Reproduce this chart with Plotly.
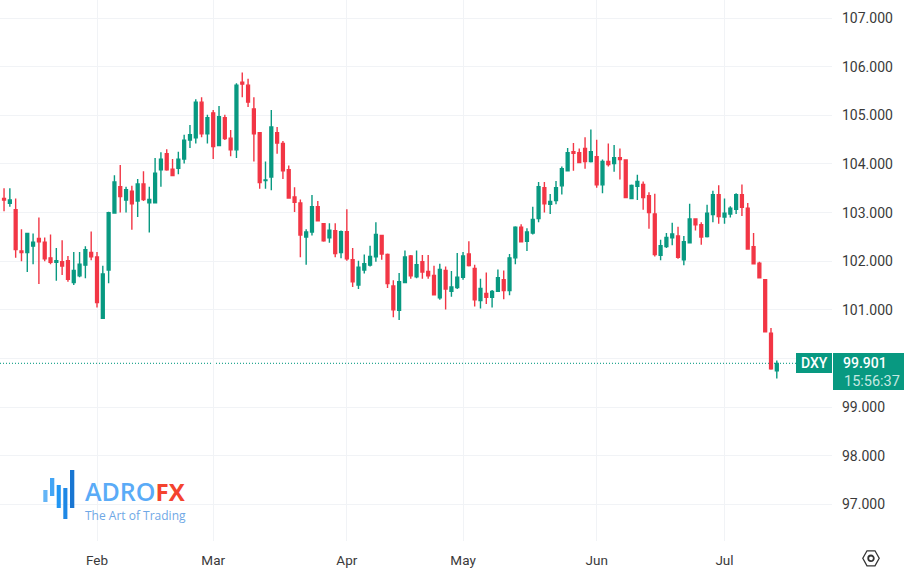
import pandas as pd
import plotly.graph_objects as go

# Trading days shown (weekdays)
dates = [d.strftime("%Y-%m-%d") for d in pd.bdate_range("2023-01-10", "2023-07-14")]

opens = [103.29,103.19,103.06,102.21,102.18,102.31,102.47,102.39,102.07,101.98,
101.99,102.01,101.56,101.70,101.92,102.18,102.09,100.83,101.82,102.99,
103.53,103.26,103.44,103.24,103.59,103.20,103.20,103.88,104.21,103.89,
103.91,104.10,104.49,104.54,105.27,104.62,105.05,104.38,104.95,104.53,
104.29,105.68,105.62,105.13,104.64,103.66,103.73,104.64,104.42,103.88,
103.32,103.20,102.50,102.60,103.12,102.77,102.48,102.63,102.18,102.61,
102.03,101.51,101.82,101.92,102.09,102.53,102.14,101.49,100.99,101.56,
102.11,101.68,101.99,101.79,101.71,101.25,101.81,101.38,101.46,101.67,
102.15,101.85,101.19,101.34,101.26,101.38,101.62,101.40,102.07,102.70,
102.41,102.58,102.88,103.51,103.17,103.25,103.55,103.86,104.25,104.23,
104.32,104.05,104.15,103.57,104.05,104.01,104.13,104.08,103.29,103.54,
103.58,103.35,102.97,102.12,102.30,102.48,102.52,102.03,102.38,102.87,
102.75,102.51,102.96,103.37,102.91,102.97,103.07,103.37,103.09,102.30,
101.96,101.62,100.52,99.75]
highs = [103.50,103.50,103.29,102.66,102.57,102.57,102.90,102.49,102.55,102.27,
102.43,102.11,102.19,102.19,102.31,102.61,102.19,101.91,103.02,103.77,
103.98,103.53,103.55,103.69,103.85,103.53,104.12,104.24,104.30,104.10,
104.25,104.60,104.80,105.33,105.37,105.01,105.11,105.19,105.01,104.70,
105.66,105.88,105.75,105.37,104.64,104.05,105.11,104.76,104.47,103.97,
103.52,103.27,102.66,103.36,103.24,102.77,102.78,102.78,102.63,103.07,
102.27,102.01,102.14,102.32,102.80,102.54,102.16,101.61,101.76,102.22,
102.13,102.22,102.13,102.13,101.91,101.95,101.89,101.80,102.17,102.19,
102.41,101.93,101.64,101.77,101.41,101.83,101.81,102.15,102.72,102.76,
102.68,103.12,103.63,103.63,103.38,103.65,103.95,104.33,104.43,104.32,
104.55,104.71,104.50,104.09,104.42,104.39,104.32,104.09,103.58,103.78,
103.64,103.42,103.39,102.44,102.58,102.79,102.71,102.52,103.18,102.87,
102.80,103.16,103.45,103.56,103.29,103.13,103.40,103.58,103.20,102.58,
101.99,101.62,100.63,99.96]
lows = [103.03,103.12,102.07,102.00,101.78,101.94,101.53,102.00,101.94,101.60,
101.72,101.58,101.51,101.67,101.65,102.02,101.05,100.83,101.55,102.99,
103.00,103.00,102.65,102.91,103.24,102.59,103.19,103.53,103.86,103.76,
103.79,104.01,104.33,104.42,104.55,104.42,104.10,104.38,104.49,104.16,
104.12,105.37,105.17,104.05,103.49,103.49,103.46,104.21,103.69,103.29,
103.01,102.08,101.93,102.53,102.83,102.40,102.38,102.08,102.06,102.01,
101.47,101.43,101.75,101.89,101.99,102.03,101.45,100.85,100.79,101.56,
101.64,101.65,101.64,101.64,101.30,101.21,101.01,101.27,101.43,101.62,
101.89,101.07,101.03,101.12,101.05,101.38,101.22,101.30,101.94,102.39,
102.21,102.55,102.80,103.00,102.97,103.17,103.37,103.86,103.86,104.03,
103.90,104.03,103.51,103.40,103.95,103.84,103.68,103.31,103.29,103.26,
103.06,102.67,102.10,102.02,102.27,102.33,102.05,101.92,102.38,102.63,
102.34,102.49,102.80,102.77,102.77,102.90,102.97,102.93,102.24,101.95,
101.66,100.54,99.77,99.59]
closes = [103.26,103.26,102.24,102.18,102.57,102.39,102.40,102.05,101.98,102.01,
101.90,101.63,101.81,101.94,102.24,102.09,101.15,101.74,103.00,103.63,
103.33,103.47,103.18,103.59,103.27,103.27,103.81,104.10,103.88,103.76,
104.10,104.49,104.60,105.27,104.62,104.95,104.36,104.97,104.52,104.29,
105.62,105.64,105.27,104.62,103.62,103.67,104.76,104.43,103.86,103.30,
103.21,102.54,102.60,103.12,102.83,102.42,102.64,102.16,102.61,102.05,
101.58,101.88,101.95,102.10,102.55,102.15,101.54,101.00,101.58,102.09,
101.70,101.93,101.78,101.70,101.31,101.83,101.43,101.47,101.67,102.11,
101.91,101.21,101.44,101.26,101.38,101.66,101.40,102.07,102.70,102.40,
102.60,102.86,103.53,103.18,103.23,103.51,103.90,104.23,104.22,104.03,
104.05,104.25,103.57,104.05,103.99,104.13,104.09,103.31,103.56,103.64,
103.31,103.00,102.14,102.32,102.49,102.56,102.08,102.40,102.87,102.75,
102.50,102.99,103.37,102.92,102.99,103.09,103.37,103.11,102.25,101.95,
101.66,100.55,99.79,99.90]

month_ticks = ["2023-02-01","2023-03-01","2023-04-03","2023-05-01","2023-06-01","2023-07-03"]
month_labels = ["Feb","Mar","Apr","May","Jun","Jul"]
price_ticks = [97,98,99,100,101,102,103,104,105,106,107]
price_labels = ["97.000","98.000","99.000","","101.000","102.000","103.000","104.000","105.000","106.000","107.000"]
last_price = 99.901

W, H = 904, 576
PW, PH = 832, 541
GREEN, RED = "#089981", "#F23645"
GRID = "#F1F3F6"
FONT = "Roboto"

def px(x): return x / PW
def py(y): return 1 - y / PH

fig = go.Figure(go.Candlestick(
    x=dates, open=opens, high=highs, low=lows, close=closes,
    increasing=dict(line=dict(color=GREEN, width=1.4), fillcolor=GREEN),
    decreasing=dict(line=dict(color=RED, width=1.4), fillcolor=RED),
    whiskerwidth=0, hoverinfo="skip", showlegend=False,
))

shapes = [
    dict(type="line", xref="paper", yref="y", x0=0, x1=1, y0=last_price, y1=last_price,
         line=dict(color="#2AA893", width=1.2, dash="1px,2px"), layer="below"),
    dict(type="rect", xref="paper", yref="paper", x0=px(796), x1=px(832), y0=py(373), y1=py(353),
         fillcolor=GREEN, line_width=0),
    dict(type="rect", xref="paper", yref="paper", x0=px(833), x1=px(904), y0=py(390), y1=py(353),
         fillcolor=GREEN, line_width=0),
]
# logo bars
for x0, x1, y0, y1, c in [(43.3,47.5,490,502,"#64B5F6"),(50,54.3,478,496,"#42A5F5"),
                          (56.7,60.8,485,508,"#2196F3"),(63.3,67.4,488,519,"#1E88E5"),
                          (70,74.3,470,508,"#1976D2")]:
    shapes.append(dict(type="rect", xref="paper", yref="paper", x0=px(x0), x1=px(x1),
                       y0=py(y1), y1=py(y0), fillcolor=c, line_width=0))
# settings icon
hexagon = [(862.8,558.3),(867,550.8),(875,550.8),(879.2,558.3),(875,565.8),(867,565.8)]
path = "M " + " L ".join(f"{px(a):.5f},{py(b):.5f}" for a, b in hexagon) + " Z"
shapes.append(dict(type="path", xref="paper", yref="paper", path=path,
                   line=dict(color="#333333", width=1.3)))
shapes.append(dict(type="circle", xref="paper", yref="paper", x0=px(868.2), x1=px(873.8),
                   y0=py(561.1), y1=py(555.5), line=dict(color="#333333", width=1.8)))

def label(x, y, text, color, size, anchor="left", family=FONT, weight=None):
    return dict(xref="paper", yref="paper", x=px(x), y=py(y), text=text, showarrow=False,
                xanchor=anchor, yanchor="middle", align="left",
                font=dict(family=family, size=size, color=color, weight=weight))

logo_text = ("<span style='font-size:25px;color:#5AABF7;font-weight:600'>ADRO</span>"
             "<span style='font-size:24px;color:#F4432F;font-weight:700'>FX</span>"
             "<br><span style='font-size:12px'>The Art of Trading</span>")
annotations = [
    label(814, 363, "DXY", "white", 14, "center", weight=500),
    label(841, 363, "99.901", "white", 14, weight=500),
    label(842, 381, "15:56:37", "#C5E8E1", 14.5),
    label(82.5, 498.5, logo_text, "#6FA8E6", 14.5, family="Open Sans"),
]

fig.update_layout(
    width=W, height=H, autosize=False,
    margin=dict(l=0, r=W-PW, t=0, b=H-PH),
    paper_bgcolor="white", plot_bgcolor="white",
    showlegend=False, hovermode=False,
    shapes=shapes, annotations=annotations,
    xaxis=dict(type="category", categoryorder="array", categoryarray=dates,
               range=[-0.695, 142.5], rangeslider=dict(visible=False),
               tickmode="array", tickvals=month_ticks, ticktext=month_labels,
               showgrid=True, gridcolor=GRID, gridwidth=1, showline=False, zeroline=False,
               ticks="", ticklabelstandoff=9, tickangle=0,
               tickfont=dict(family=FONT, size=13.5, color="#3A3A3A")),
    yaxis=dict(side="right", range=[96.25, 107.37], tickmode="array",
               tickvals=price_ticks, ticktext=price_labels,
               showgrid=True, gridcolor=GRID, gridwidth=1, showline=False, zeroline=False,
               ticks="", ticklabelstandoff=9,
               tickfont=dict(family=FONT, size=14, color="#3A3A3A")),
)
fig.write_html("out.html", config=dict(displayModeBar=False),
               post_script="document.body.style.margin='0';document.body.style.overflow='hidden';")
